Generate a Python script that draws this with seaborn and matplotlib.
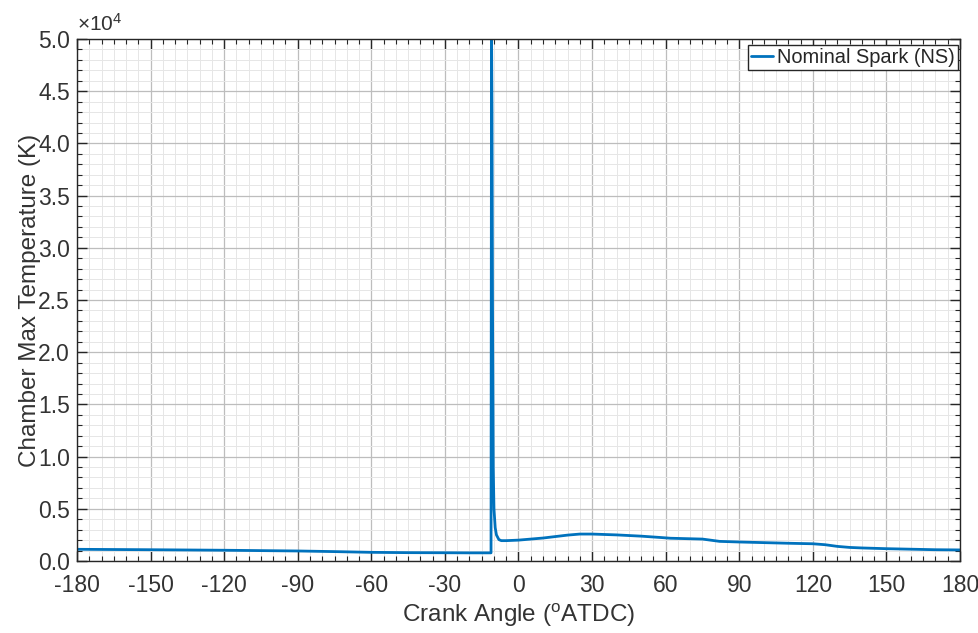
import numpy as np
import pandas as pd
import seaborn as sns
import matplotlib
matplotlib.use("Agg")
import matplotlib.pyplot as plt
from matplotlib.ticker import MultipleLocator, FuncFormatter

# ---- data ----
crank_angle = [-180, -150, -120, -90, -75, -60, -45, -30, -20, -11.2,
               -11.0, -10.8, -10.6, -10.3, -10.0, -9.5, -9.0, -8.0, -7.0, -5.0,
               0, 10, 20, 25, 30, 40, 50, 58, 62, 75, 82, 90, 100, 110, 120,
               125, 130, 135, 140, 150, 160, 170, 180]
max_temp = [1120, 1080, 1030, 960, 900, 830, 800, 790, 780, 780,
            51000, 43200, 25000, 9000, 5000, 3200, 2500, 2050, 1950, 1950,
            2000, 2200, 2480, 2580, 2580, 2500, 2380, 2250, 2180, 2100, 1880, 1820, 1760, 1700, 1650,
            1560, 1400, 1300, 1250, 1180, 1130, 1080, 1060]
series_label = "Nominal Spark (NS)"
x_ticks = list(range(-180, 181, 30))
y_ticks = [0, 5000, 10000, 15000, 20000, 25000, 30000, 35000, 40000, 45000, 50000]

df = pd.DataFrame({"angle": crank_angle, "temp": max_temp})

sns.set_theme(style="white")
plt.rcParams["font.family"] = ["Liberation Sans", "DejaVu Sans"]
plt.rcParams["mathtext.fontset"] = "custom"
plt.rcParams["mathtext.rm"] = "Liberation Sans"
plt.rcParams["mathtext.it"] = "Liberation Sans"
plt.rcParams["axes.unicode_minus"] = False

W, H = 979, 633
fig = plt.figure(figsize=(W / 100, H / 100), dpi=100)
ax_l, ax_r, ax_t, ax_b = 77, 960, 39, 561
ax = fig.add_axes([ax_l / W, 1 - ax_b / H, (ax_r - ax_l) / W, (ax_b - ax_t) / H])

sns.lineplot(data=df, x="angle", y="temp", ax=ax, sort=False, color="#0072BD",
             linewidth=2.0, label=series_label)

ax.set_xlim(-180, 180)
ax.set_ylim(0, 50000)
ax.set_xticks(x_ticks)
ax.set_yticks(y_ticks)
ax.xaxis.set_minor_locator(MultipleLocator(5))
ax.yaxis.set_minor_locator(MultipleLocator(1000))
ax.yaxis.set_major_formatter(FuncFormatter(lambda v, p: f"{v/1e4:.1f}"))

ax.grid(True, which="major", color="#bdbdbd", linewidth=0.9)
ax.grid(True, which="minor", color="#e6e6e6", linewidth=0.7)
ax.set_axisbelow(True)

for s in ax.spines.values():
    s.set_color("#262626")
    s.set_linewidth(1.0)
    s.set_visible(True)

ax.tick_params(which="both", direction="in", top=True, right=True,
               bottom=True, left=True, colors="#262626", labelcolor="#333333")
ax.tick_params(which="major", length=7, width=1.0, labelsize=16.5)
ax.tick_params(axis="x", which="major", pad=9)
ax.tick_params(axis="y", which="major", pad=5)
ax.tick_params(which="minor", length=3.5, width=0.8)

ax.set_xlabel(r"Crank Angle ($^{\mathrm{o}}$ATDC)", fontsize=17.5, color="#333333", labelpad=4)
ax.set_ylabel("Chamber Max Temperature (K)", fontsize=17.5, color="#333333", labelpad=-2)

ax.text(0.0, 1.008, r"$\times10^{4}$", transform=ax.transAxes, fontsize=15,
        color="#333333", ha="left", va="bottom")

leg = ax.legend(loc="upper right", fontsize=14.4, frameon=True, fancybox=False,
                handlelength=1.1, handletextpad=0.2, borderpad=0.15,
                borderaxespad=0.0,
                bbox_to_anchor=(958 / W, 1 - 45 / H), bbox_transform=fig.transFigure)
leg.get_frame().set_edgecolor("#262626")
leg.get_frame().set_linewidth(1.0)
leg.get_frame().set_alpha(1.0)

fig.savefig("out.png", dpi=100)
